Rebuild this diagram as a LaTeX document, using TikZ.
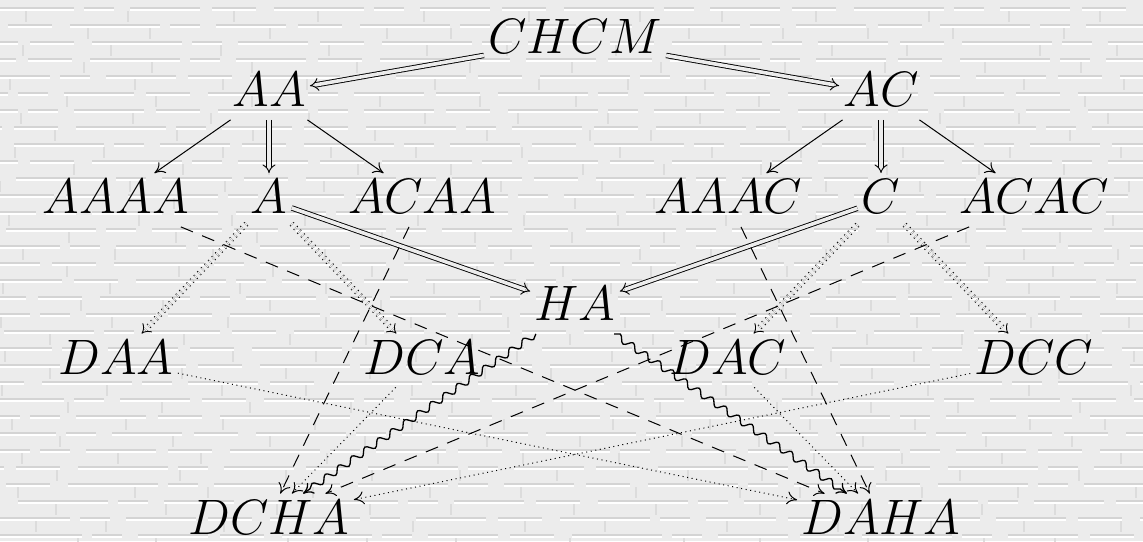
\documentclass[tikz,border=0pt]{standalone}
\usetikzlibrary{arrows.meta,decorations.pathmorphing}
\definecolor{bgc}{RGB}{236,236,236}
\definecolor{brick}{RGB}{212,212,212}
\definecolor{brickv}{RGB}{220,220,220}
\begin{document}
\begin{tikzpicture}[x=0.5pt,y=-0.5pt,
  lbl/.style={font=\fontsize{23.3pt}{28pt}\selectfont, inner xsep=2pt, inner ysep=3pt, text depth=3.5pt, anchor=base},
  lblb/.style={lbl, text depth=0pt},
  ar/.style={line width=0.5pt, -{Computer Modern Rightarrow[length=5pt,width=6.5pt]}},
  dbl/.style={line width=0.45pt, double, double distance=1.8pt, double=bgc, -{Implies}},
  ddot/.style={dbl, dash pattern=on 0.6pt off 2pt},
  dsh/.style={ar, dash pattern=on 6.5pt off 5pt},
  dotl/.style={ar, dash pattern=on 0.5pt off 1.8pt},
  wav/.style={ar, line width=0.65pt, decorate, decoration={snake, amplitude=1.7pt, segment length=8pt, post length=2pt}}]
\useasboundingbox (0,0) rectangle (1143,541);
% background texture
\fill[bgc] (0,0) rectangle (1143,541);
\pgfmathsetseed{7}
\foreach \r in {0,...,31} {
  \pgfmathsetmacro\yy{8+17*\r}
  \pgfmathsetmacro\ph{random(0,120)}
  \draw[brick, line width=1pt, dash pattern=on 35pt off 6pt on 22pt off 9pt on 45pt off 5pt on 15pt off 8pt, dash phase=\ph pt] (0,\yy) -- (1143,\yy);
  \draw[white, line width=0.6pt, dash pattern=on 35pt off 6pt on 22pt off 9pt on 45pt off 5pt on 15pt off 8pt, dash phase=\ph pt] (0,\yy+2) -- (1143,\yy+2);
  \foreach \c in {0,...,11} {
    \pgfmathsetmacro\xx{\c*100+mod(\r,2)*50+random(0,40)}
    \draw[brickv, line width=0.7pt] (\xx,\yy+3) -- (\xx,\yy+14);
  }
}
% nodes
\node[lbl] (CHCM) at (575,53) {$CHCM$};
\node[lbl] (AA) at (269,106.5) {$AA$};
\node[lbl] (AC) at (881,106.5) {$AC$};
\node[lbl] (AAAA) at (116,213.5) {$AAAA$};
\node[lbl] (A) at (269,213.5) {$A$};
\node[lbl] (ACAA) at (422,213.5) {$ACAA$};
\node[lbl] (AAAC) at (728,213.5) {$AAAC$};
\node[lbl] (C) at (881,213.5) {$C$};
\node[lbl] (ACAC) at (1034,213.5) {$ACAC$};
\node[lbl] (HA) at (575,320.5) {$HA$};
\node[lbl] (DAA) at (116,374) {$DAA$};
\node[lbl] (DCA) at (422,374) {$DCA$};
\node[lbl] (DAC) at (728,374) {$DAC$};
\node[lbl] (DCC) at (1034,374) {$DCC$};
\node[lblb] (DCHA) at (269,534) {$DCHA$};
\node[lblb] (DAHA) at (881,534) {$DAHA$};
% edges
\draw[dbl] (CHCM) -- (AA);
\draw[dbl] (CHCM) -- (AC);
\draw[ar] (AA) -- (AAAA);
\draw[dbl] (AA) -- (A);
\draw[ar] (AA) -- (ACAA);
\draw[ar] (AC) -- (AAAC);
\draw[dbl] (AC) -- (C);
\draw[ar] (AC) -- (ACAC);
\draw[dbl] (A) -- (HA);
\draw[dbl] (C) -- (HA);
\draw[ddot] (A) -- (DAA);
\draw[ddot] (A) -- (DCA);
\draw[ddot] (C) -- (DAC);
\draw[ddot] (C) -- (DCC);
\draw[dsh] (AAAA) -- (DAHA);
\draw[dsh] (ACAA) -- (DCHA);
\draw[dsh] (AAAC) -- (DAHA);
\draw[dsh] (ACAC) -- (DCHA);
\draw[dotl] (DAA) -- (DAHA);
\draw[dotl] (DCA) -- (DCHA);
\draw[dotl] (DAC) -- (DAHA);
\draw[dotl] (DCC) -- (DCHA);
\draw[wav] (HA) -- (DCHA);
\draw[wav] (HA) -- (DAHA);
\end{tikzpicture}
\end{document}
